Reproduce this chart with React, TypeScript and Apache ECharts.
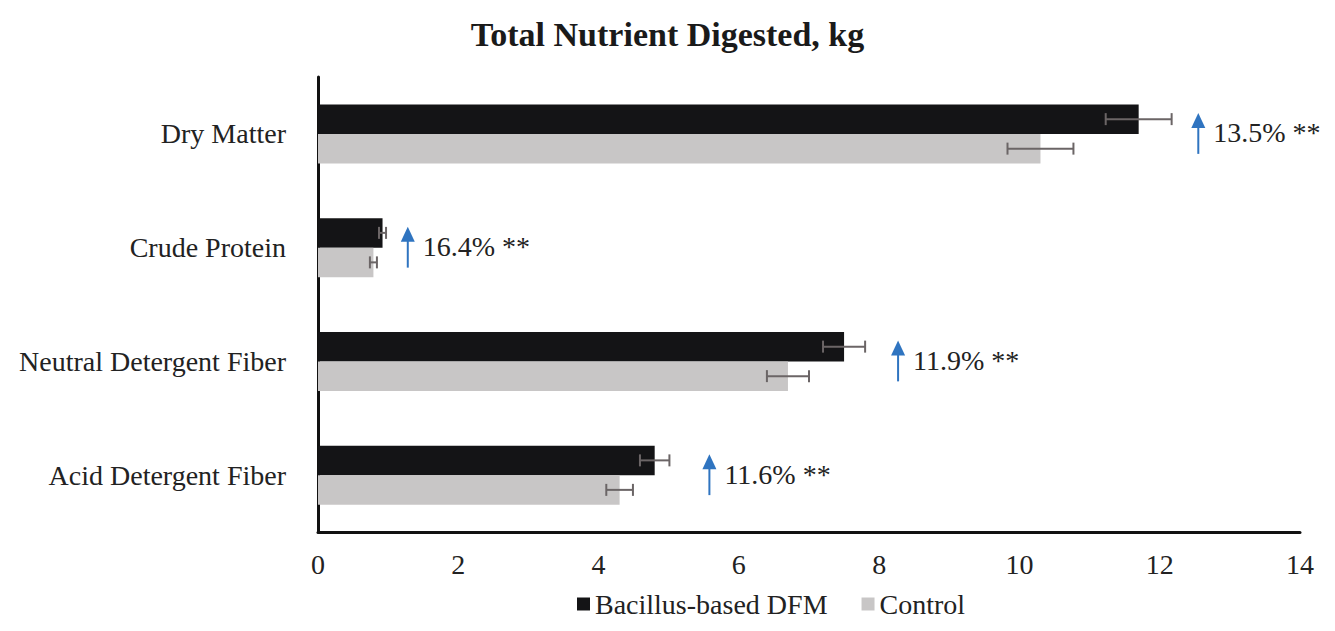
import React, { useEffect, useRef } from "react";
import * as echarts from "echarts";

const categories = ["Dry Matter", "Crude Protein", "Neutral Detergent Fiber", "Acid Detergent Fiber"];
const dfmValues = [11.7, 0.92, 7.5, 4.8];
const dfmErrors = [0.47, 0.05, 0.3, 0.21];
const controlValues = [10.3, 0.79, 6.7, 4.3];
const controlErrors = [0.47, 0.05, 0.3, 0.19];
const annotX = [12.55, 1.28, 8.27, 5.58];
const annotLabels = ["13.5% **", "16.4% **", "11.9% **", "11.6% **"];
const xTicks = { min: 0, max: 14, interval: 2 };

const FONT = '"Liberation Serif", "Times New Roman", serif';
const BAR_W = 29.5;

function errorSeries(name: string, values: number[], errors: number[], offset: number) {
  return {
    type: "custom",
    name,
    z: 5,
    data: values.map((v, i) => [v, i, errors[i]]),
    renderItem: (params: any, api: any) => {
      const v = api.value(0);
      const c = api.value(1);
      const e = api.value(2);
      const lo = api.coord([v - e, c]);
      const hi = api.coord([v + e, c]);
      const y = lo[1] + offset;
      const cap = 6;
      const st = { stroke: "#6b6566", lineWidth: 2 };
      return {
        type: "group",
        children: [
          { type: "line", shape: { x1: lo[0], y1: y, x2: hi[0], y2: y }, style: st },
          { type: "line", shape: { x1: lo[0], y1: y - cap, x2: lo[0], y2: y + cap }, style: st },
          { type: "line", shape: { x1: hi[0], y1: y - cap, x2: hi[0], y2: y + cap }, style: st },
        ],
      };
    },
  };
}

export default function App() {
  const ref = useRef<HTMLDivElement>(null);
  useEffect(() => {
    document.body.style.margin = "0";
    const chart = echarts.init(ref.current!, null, { renderer: "svg" });
    chart.setOption({
      animation: false,
      backgroundColor: "#ffffff",
      title: {
        text: "Total Nutrient Digested, kg",
        left: "center",
        top: 12,
        textStyle: { fontFamily: FONT, fontSize: 34, fontWeight: "bold", color: "#1a1a1a" },
      },
      legend: {
        data: ["Bacillus-based DFM", "Control"],
        bottom: 8,
        left: 572,
        icon: "rect",
        itemWidth: 13,
        itemHeight: 13,
        itemGap: 34,
        textStyle: { fontFamily: FONT, fontSize: 28, color: "#222" },
      },
      grid: { left: 318, right: 35, top: 77, bottom: 99, containLabel: false },
      xAxis: {
        type: "value",
        min: xTicks.min,
        max: xTicks.max,
        interval: xTicks.interval,
        splitLine: { show: false },
        axisLine: { show: true, lineStyle: { color: "#111", width: 3 } },
        axisTick: { show: false },
        axisLabel: { fontFamily: FONT, fontSize: 28, color: "#222", margin: 18 },
      },
      yAxis: {
        type: "category",
        inverse: true,
        data: categories,
        axisLine: { show: true, lineStyle: { color: "#111", width: 3 } },
        axisTick: { show: false },
        axisLabel: { fontFamily: FONT, fontSize: 28, color: "#222", margin: 32 },
      },
      series: [
        {
          type: "bar",
          name: "Bacillus-based DFM",
          data: dfmValues,
          barWidth: BAR_W,
          barGap: "0%",
          itemStyle: { color: "#141416" },
        },
        {
          type: "bar",
          name: "Control",
          data: controlValues,
          barWidth: BAR_W,
          barGap: "0%",
          itemStyle: { color: "#c8c6c6" },
        },
        errorSeries("errDFM", dfmValues, dfmErrors, -BAR_W / 2),
        errorSeries("errControl", controlValues, controlErrors, BAR_W / 2),
        {
          type: "custom",
          name: "annotations",
          z: 6,
          data: annotX.map((x, i) => [x, i]),
          renderItem: (params: any, api: any) => {
            const p = api.coord([api.value(0), api.value(1)]);
            const x = p[0];
            const y = p[1];
            const blue = "#2f74c0";
            return {
              type: "group",
              children: [
                { type: "line", shape: { x1: x, y1: y + 20, x2: x, y2: y - 8 }, style: { stroke: blue, lineWidth: 2 } },
                {
                  type: "polygon",
                  shape: { points: [[x - 7, y - 6], [x + 7, y - 6], [x, y - 21]] },
                  style: { fill: blue },
                },
                {
                  type: "text",
                  x: x + 15,
                  y: y - 1,
                  style: {
                    text: annotLabels[params.dataIndex],
                    fontFamily: FONT,
                    fontSize: 28,
                    fill: "#222",
                    verticalAlign: "middle",
                    align: "left",
                  },
                },
              ],
            };
          },
        },
      ],
    });
    return () => chart.dispose();
  }, []);
  return <div ref={ref} style={{ position: "fixed", left: 0, top: 0, width: 1335, height: 631 }} />;
}
